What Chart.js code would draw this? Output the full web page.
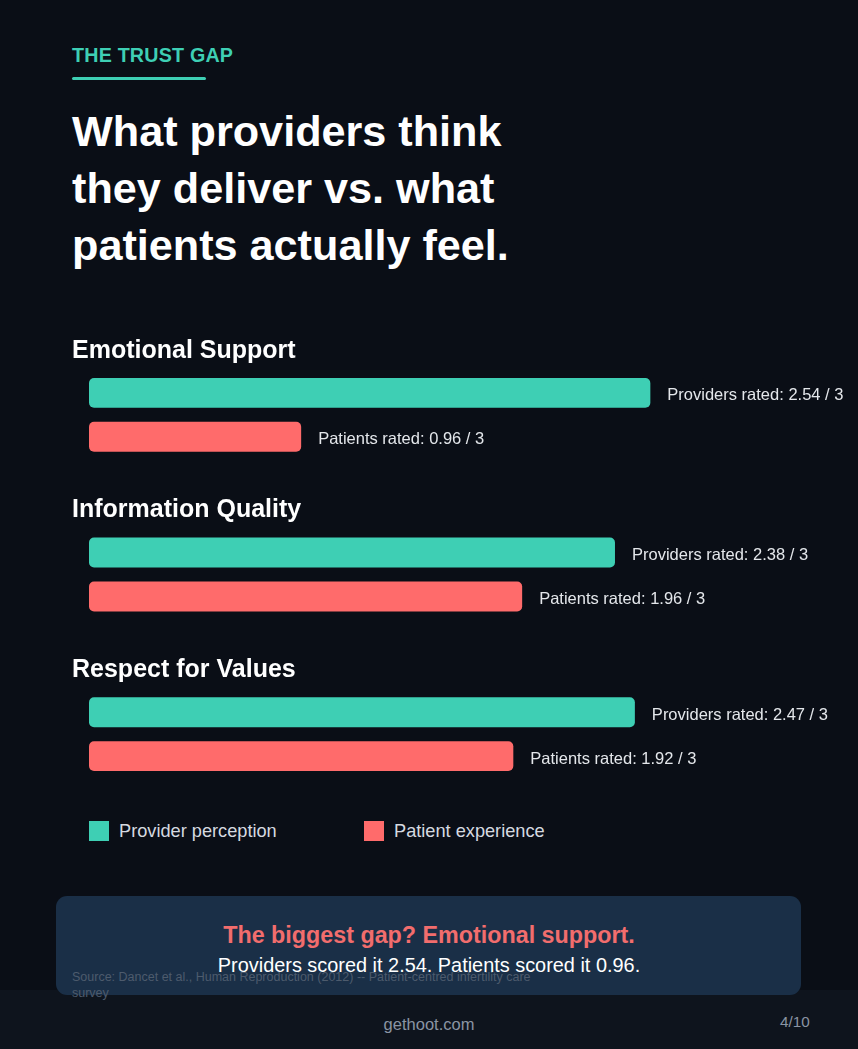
<!DOCTYPE html>
<html>
<head>
<meta charset="utf-8">
<script src="https://cdn.jsdelivr.net/npm/chart.js@4"></script>
<style>
  html, body { margin:0; padding:0; }
  body { width:858px; height:1049px; background:#0a0e16; position:relative; overflow:hidden;
         font-family:"Liberation Sans", Arial, Helvetica, sans-serif; }
  .kicker { position:absolute; left:72px; top:44px; color:#3ecfb4; font-weight:bold; font-size:19.7px; letter-spacing:0.2px; }
  .kbar { position:absolute; left:72px; top:77px; width:134px; height:3px; background:#3ecfb4; border-radius:2px; }
  .title { position:absolute; left:72px; top:103px; color:#ffffff; font-weight:bold; font-size:43.2px; line-height:57px; }
  #wrap { position:absolute; left:0; top:314px; width:858px; height:500px; }
  .legend { position:absolute; top:821px; height:20px; display:flex; align-items:center; color:#d6dae0; font-size:18.2px; }
  .legend span.sw { display:inline-block; width:20px; height:20px; margin-right:10px; }
  .callout { position:absolute; left:56px; top:896px; width:745px; height:99px; background:#1a2f47; border-radius:11px; }
  .c1 { position:absolute; left:0; top:922px; text-align:center; color:#f26d6d; font-weight:bold; font-size:23.3px; width:858px; z-index:3; }
  .c2 { position:absolute; left:0; top:954px; text-align:center; color:#ffffff; font-size:19.9px; width:858px; z-index:3; }
  .footer { position:absolute; left:0; top:990px; width:858px; height:59px; background:#0e141d; }
  .source { position:absolute; left:72px; top:969px; width:470px; color:#4d5b6d; font-size:12.5px; line-height:16px; z-index:2; }
  .site { position:absolute; left:0; width:858px; top:1015px; text-align:center; color:#8a94a3; font-size:16.5px; z-index:2; }
  .page { position:absolute; left:780px; top:1013px; color:#8a94a3; font-size:15.3px; z-index:2; }
</style>
</head>
<body>
<div class="kicker">THE TRUST GAP</div>
<div class="kbar"></div>
<div class="title">What providers think<br>they deliver vs. what<br>patients actually feel.</div>

<div id="wrap"><canvas id="c"></canvas></div>

<div class="legend" style="left:89px;"><span class="sw" style="background:#3ecfb4"></span>Provider perception</div>
<div class="legend" style="left:364px;"><span class="sw" style="background:#ff6b6b"></span>Patient experience</div>

<div class="footer"></div>
<div class="callout"></div>
<div class="source">Source: Dancet et al., Human Reproduction (2012) -- Patient-centred infertility care survey</div>
<div class="c1">The biggest gap? Emotional support.</div>
<div class="c2">Providers scored it 2.54. Patients scored it 0.96.</div>
<div class="site">gethoot.com</div>
<div class="page">4/10</div>

<script>
const categories = ["Emotional Support", "Information Quality", "Respect for Values"];
const providerScores = [2.54, 2.38, 2.47];
const patientScores = [0.96, 1.96, 1.92];
const seriesNames = ["Provider perception", "Patient experience"];
const labelPrefixes = ["Providers rated: ", "Patients rated: "];
const scaleMax = 3;

const decor = {
  id: 'decor',
  afterDatasetsDraw(chart) {
    const ctx = chart.ctx;
    const y = chart.scales.y;
    ctx.save();
    // category headings
    ctx.fillStyle = '#ffffff';
    ctx.font = 'bold 25px "Liberation Sans", Arial, sans-serif';
    ctx.textBaseline = 'middle';
    ctx.textAlign = 'left';
    categories.forEach((c, i) => {
      ctx.fillText(c, 72, y.getPixelForValue(i) - 64);
    });
    // value labels
    ctx.font = '16.5px "Liberation Sans", Arial, sans-serif';
    ctx.fillStyle = '#e4e7eb';
    chart.data.datasets.forEach((ds, di) => {
      const meta = chart.getDatasetMeta(di);
      meta.data.forEach((bar, i) => {
        ctx.fillText(labelPrefixes[di] + ds.data[i].toFixed(2) + ' / ' + scaleMax, bar.x + 17, bar.y + 3);
      });
    });
    ctx.restore();
  }
};

new Chart(document.getElementById('c'), {
  type: 'bar',
  data: {
    labels: categories,
    datasets: [
      { label: seriesNames[0], data: providerScores, backgroundColor: '#3ecfb4' },
      { label: seriesNames[1], data: patientScores, backgroundColor: '#ff6b6b' }
    ]
  },
  options: {
    indexAxis: 'y',
    responsive: true,
    maintainAspectRatio: false,
    animation: false,
    categoryPercentage: 0.55,
    barPercentage: 0.68,
    datasets: { bar: { borderRadius: 5, borderSkipped: false } },
    layout: { padding: { left: 89, right: 106, top: 21, bottom: 0 } },
    scales: {
      x: { display: false, min: 0, max: scaleMax },
      y: { display: false }
    },
    plugins: { legend: { display: false }, tooltip: { enabled: false } }
  },
  plugins: [decor]
});
</script>
</body>
</html>
